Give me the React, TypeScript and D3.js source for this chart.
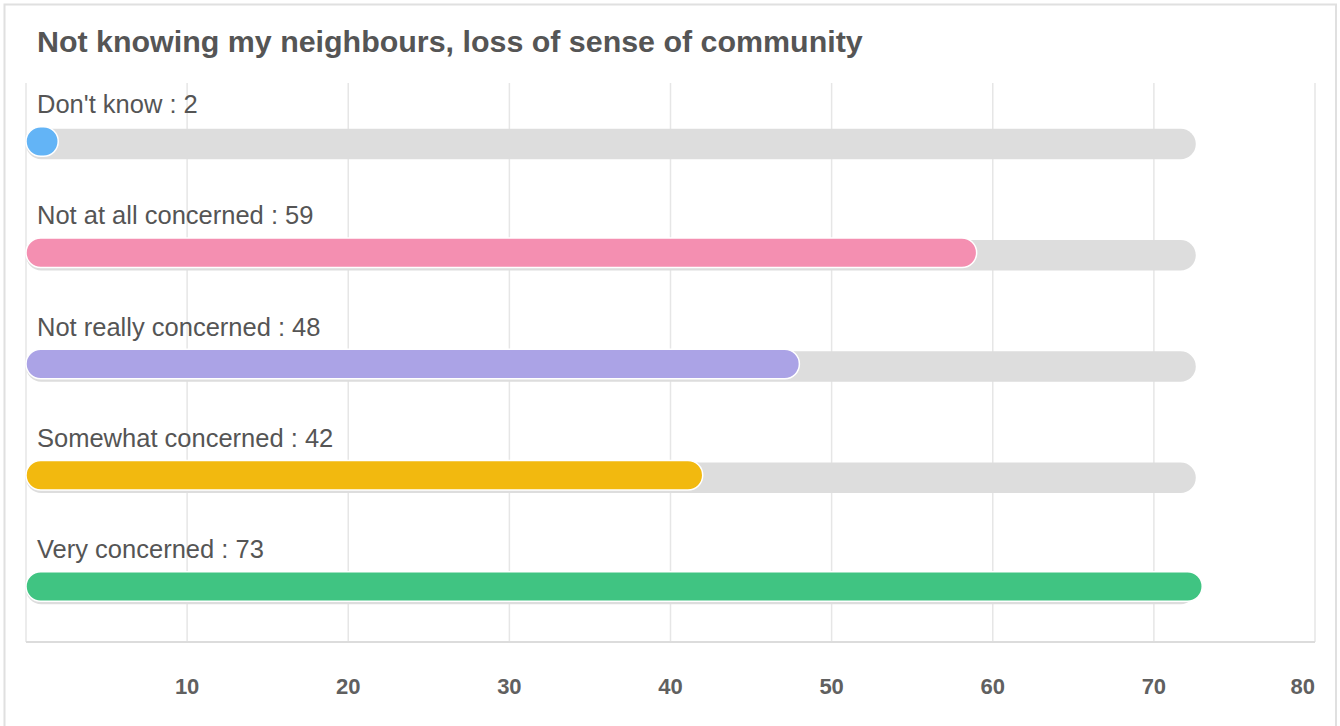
import React from "react";
import * as d3 from "d3";

const title = "Not knowing my neighbours, loss of sense of community";
const categories = ["Don't know", "Not at all concerned", "Not really concerned", "Somewhat concerned", "Very concerned"];
const values = [2, 59, 48, 42, 73];
const colors = ["#63b4f6", "#f48fb1", "#aba3e6", "#f2b90f", "#40c482"];
const trackEnd = 72.6;
const ticks = [0, 10, 20, 30, 40, 50, 60, 70, 80];
const tickLabels = ["10", "20", "30", "40", "50", "60", "70", "80"];

const W = 1340;
const H = 726;
const FONT = "Helvetica, Arial, 'Liberation Sans', sans-serif";

export default function App() {
  const x = d3.scaleLinear().domain([0, 80]).range([26, 1315]);
  const y = d3.scalePoint<string>().domain(categories).range([144, 589]);
  const trackH = 30.5;
  const barH = 29.5;
  const plotTop = 83;
  const plotBottom = 642;

  return (
    <svg width={W} height={H} style={{ position: "absolute", left: 0, top: 0, background: "#fff" }} fontFamily={FONT}>
      <rect x={4.5} y={4.5} width={1331.5} height={760} fill="#fff" stroke="#e0e0e0" strokeWidth={2} />
      <text x={37} y={52} fontSize={30.4} fontWeight="bold" fill="#555">{title}</text>
      {ticks.map((t) => (
        <line key={t} x1={x(t)} x2={x(t)} y1={plotTop} y2={plotBottom} stroke="#e6e6e6" strokeWidth={1.5} />
      ))}
      <line x1={x(0)} x2={x(80)} y1={plotBottom} y2={plotBottom} stroke="#dcdcdc" strokeWidth={2} />
      {tickLabels.map((l, i) => {
        const v = +l;
        const last = i === tickLabels.length - 1;
        return (
          <text key={l} x={x(v)} y={694} fontSize={22} fontWeight="bold" fill="#606060" textAnchor={last ? "end" : "middle"}>{l}</text>
        );
      })}
      {categories.map((c, i) => {
        const cy = y(c)!;
        return (
          <g key={c}>
            <text x={37} y={cy - 31} fontSize={25.5} fill="#555">{`${c} : ${values[i]}`}</text>
            <rect x={x(0)} y={cy - trackH / 2} width={x(trackEnd) - x(0)} height={trackH} rx={trackH / 2} fill="#dddddd" />
            <rect x={x(0)} y={cy - 2.5 - barH / 2} width={x(values[i]) - x(0)} height={barH} rx={barH / 2} fill={colors[i]} stroke="#fff" strokeWidth={1.5} />
          </g>
        );
      })}
    </svg>
  );
}
